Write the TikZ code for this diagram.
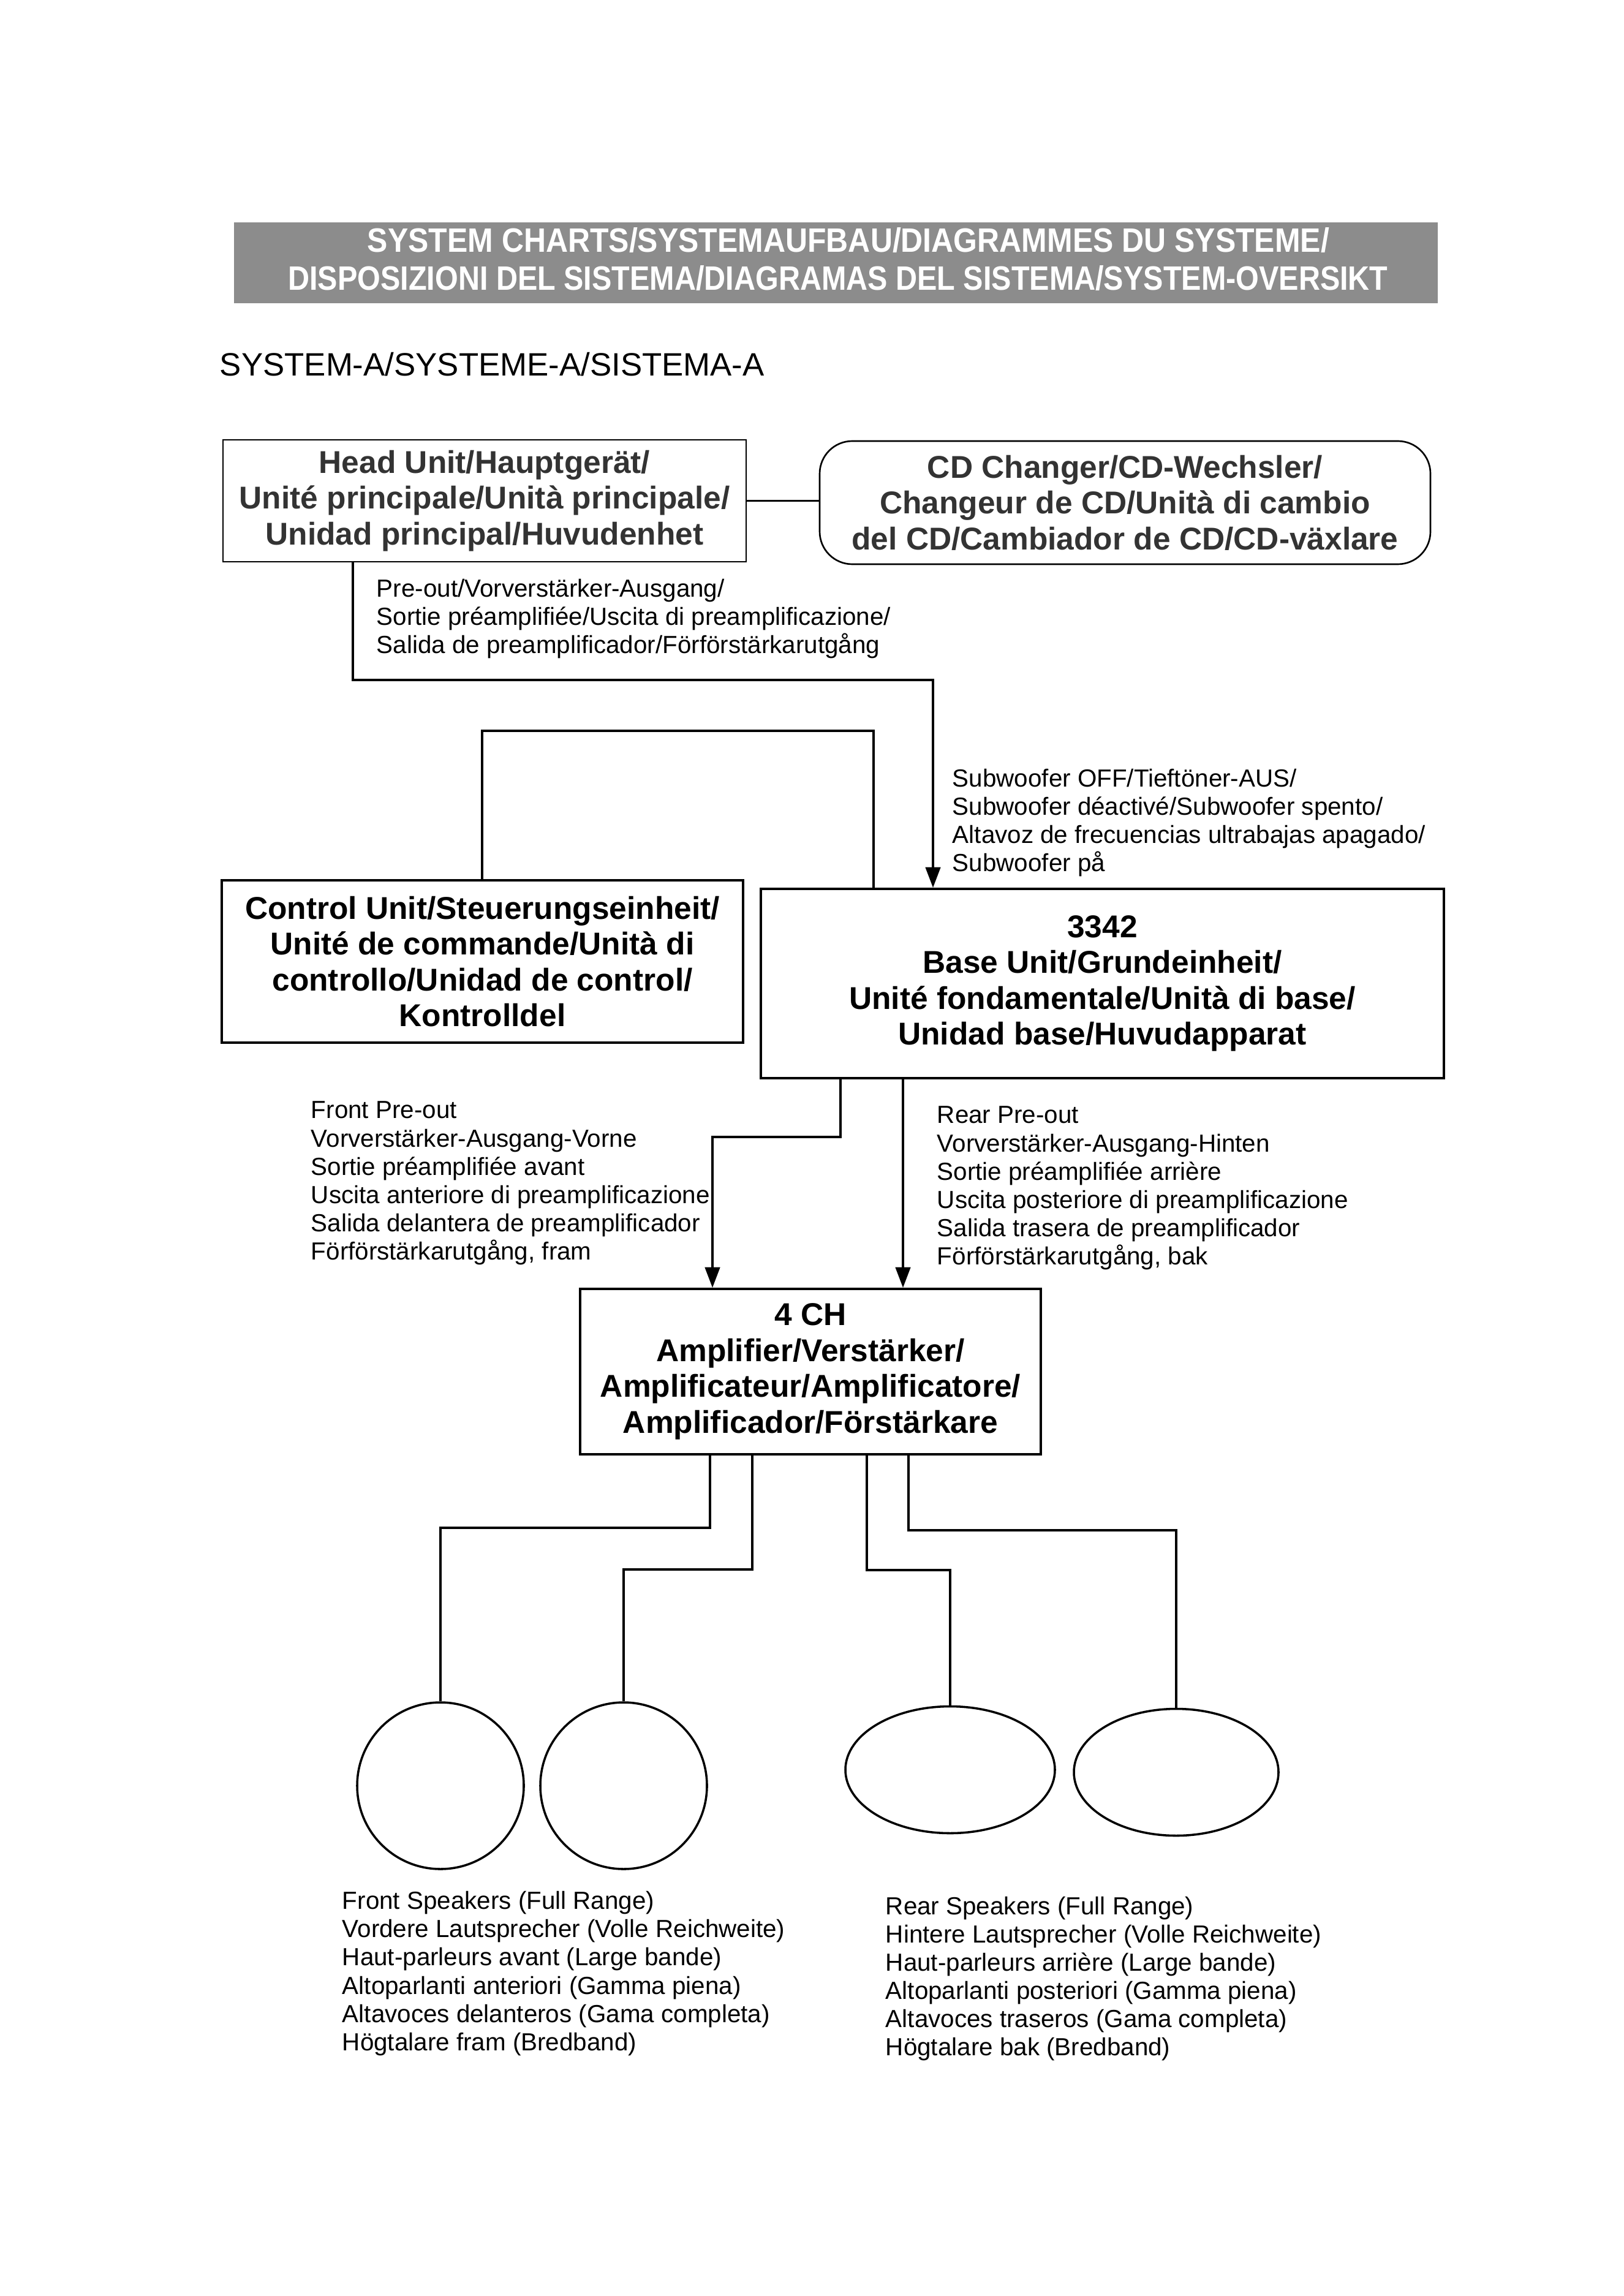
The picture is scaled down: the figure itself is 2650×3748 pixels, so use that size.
\documentclass[tikz,border=0pt]{standalone}
\usepackage{fontspec}
\setmainfont{Liberation Sans}
\usetikzlibrary{arrows.meta,shapes.geometric}
\newdimen\pxLen
\pxLen=0.2254pt
\begin{document}
\begin{tikzpicture}[
    x=\pxLen, y=-\pxLen,
    sysBanner/.style={fill=black!45, inner sep=0pt},
    sysBannerText/.style={text=white, inner sep=0pt, font=\bfseries},
    sysTitle/.style={anchor=west, inner sep=0pt, font=\fontsize{11.9}{14}\selectfont},
    sysUnit/.style={draw=black, line width=0.9pt, align=center, inner sep=0pt,
                    font=\fontsize{11.6}{13.2}\selectfont\bfseries},
    sysUnitFaint/.style={sysUnit, line width=0.6pt, text=black!80},
    sysChanger/.style={sysUnitFaint, rounded corners=12pt},
    sysSpeaker/.style={draw=black, line width=0.8pt, ellipse, inner sep=0pt},
    sysWire/.style={draw=black, line width=0.7pt},
    sysFeed/.style={sysWire, -{Triangle[length=7.5pt,width=5.5pt]}},
    sysNote/.style={align=left, anchor=west, inner sep=0pt,
                    font=\fontsize{9.1}{10.4}\selectfont}]
  \useasboundingbox (0,0) rectangle (2650,3748);

  % heading
  \node[sysBanner, minimum width=1965*\pxLen, minimum height=132*\pxLen] (banner) at (1364.5,429) {};
  \node[sysBannerText] (bannerTop) at (1385,392)
    {\resizebox{1570\pxLen}{40\pxLen}{SYSTEM CHARTS/SYSTEMAUFBAU/DIAGRAMMES DU SYSTEME/}};
  \node[sysBannerText] (bannerBottom) at (1368,454)
    {\resizebox{1795\pxLen}{40\pxLen}{DISPOSIZIONI DEL SISTEMA/DIAGRAMAS DEL SISTEMA/SYSTEM-OVERSIKT}};
  \node[sysTitle] (systemName) at (358,595) {SYSTEM-A/SYSTEME-A/SISTEMA-A};

  % units
  \node[sysUnitFaint, minimum width=854*\pxLen, minimum height=199*\pxLen] (headUnit) at (791,817.5)
    {Head Unit/Hauptgerät/\\Unité principale/Unità principale/\\Unidad principal/Huvudenhet};
  \node[sysChanger, minimum width=997*\pxLen, minimum height=201*\pxLen] (cdChanger) at (1836.5,820.5)
    {CD Changer/CD-Wechsler/\\Changeur de CD/Unità di cambio\\del CD/Cambiador de CD/CD-växlare};
  \node[sysUnit, minimum width=851*\pxLen, minimum height=265*\pxLen] (controlUnit) at (787.5,1569.5)
    {Control Unit/Steuerungseinheit/\\Unité de commande/Unità di\\controllo/Unidad de control/\\Kontrolldel};
  \node[sysUnit, minimum width=1115*\pxLen, minimum height=309*\pxLen] (baseUnit) at (1799.5,1605.5)
    {3342\\Base Unit/Grundeinheit/\\Unité fondamentale/Unità di base/\\Unidad base/Huvudapparat};
  \node[sysUnit, minimum width=752*\pxLen, minimum height=270*\pxLen] (amplifier) at (1323,2239)
    {4 CH\\Amplifier/Verstärker/\\Amplificateur/Amplificatore/\\Amplificador/Förstärkare};

  % speakers
  \node[sysSpeaker, minimum width=272*\pxLen, minimum height=272*\pxLen] (spkFL) at (719,2915) {};
  \node[sysSpeaker, minimum width=272*\pxLen, minimum height=272*\pxLen] (spkFR) at (1018,2915) {};
  \node[sysSpeaker, minimum width=342*\pxLen, minimum height=207*\pxLen] (spkRL) at (1551,2889) {};
  \node[sysSpeaker, minimum width=334*\pxLen, minimum height=207*\pxLen] (spkRR) at (1920,2893) {};

  % bend points
  \coordinate (preOutL) at (576,1110);
  \coordinate (preOutR) at (1523,1110);
  \coordinate (ctrlLoopL) at (787,1193);
  \coordinate (ctrlLoopR) at (1426,1193);
  \coordinate (frontOutR) at (1372,1856);
  \coordinate (frontOutL) at (1163,1856);
  \coordinate (rearOut) at (1474,1856);
  \coordinate (ampFL) at (1159,2494);
  \coordinate (ampFR) at (1228,2562);
  \coordinate (ampRL) at (1415,2563);
  \coordinate (ampRR) at (1483,2498);

  % wiring
  \draw[sysWire] (headUnit.east) -- (headUnit.east -| cdChanger.west);
  \draw[sysFeed] (preOutL |- headUnit.south) -- (preOutL) -- (preOutR) -- (preOutR |- baseUnit.north);
  \draw[sysWire] (ctrlLoopL |- controlUnit.north) -- (ctrlLoopL) -- (ctrlLoopR) -- (ctrlLoopR |- baseUnit.north);
  \draw[sysFeed] (frontOutR |- baseUnit.south) -- (frontOutR) -- (frontOutL) -- (frontOutL |- amplifier.north);
  \draw[sysFeed] (rearOut |- baseUnit.south) -- (rearOut |- amplifier.north);
  \foreach \tap/\spk in {ampFL/spkFL,ampFR/spkFR,ampRL/spkRL,ampRR/spkRR}{
    \draw[sysWire] (\tap |- amplifier.south) -- (\tap) -- (\tap -| \spk.north) -- (\spk.north);
  }

  % notes
  \node[sysNote] (preOutNote) at (614,1010)
    {Pre-out/Vorverstärker-Ausgang/\\Sortie préamplifiée/Uscita di preamplificazione/\\Salida de preamplificador/Förförstärkarutgång};
  \node[sysNote] (subNote) at (1554,1343)
    {Subwoofer OFF/Tieftöner-AUS/\\Subwoofer déactivé/Subwoofer spento/\\Altavoz de frecuencias ultrabajas apagado/\\Subwoofer på};
  \node[sysNote] (frontNote) at (507,1931.5)
    {Front Pre-out\\Vorverstärker-Ausgang-Vorne\\Sortie préamplifiée avant\\Uscita anteriore di preamplificazione\\Salida delantera de preamplificador\\Förförstärkarutgång, fram};
  \node[sysNote] (rearNote) at (1529,1939.5)
    {Rear Pre-out\\Vorverstärker-Ausgang-Hinten\\Sortie préamplifiée arrière\\Uscita posteriore di preamplificazione\\Salida trasera de preamplificador\\Förförstärkarutgång, bak};
  \node[sysNote] (frontSpkNote) at (558,3221.5)
    {Front Speakers (Full Range)\\Vordere Lautsprecher (Volle Reichweite)\\Haut-parleurs avant (Large bande)\\Altoparlanti anteriori (Gamma piena)\\Altavoces delanteros (Gama completa)\\Högtalare fram (Bredband)};
  \node[sysNote] (rearSpkNote) at (1445,3230)
    {Rear Speakers (Full Range)\\Hintere Lautsprecher (Volle Reichweite)\\Haut-parleurs arrière (Large bande)\\Altoparlanti posteriori (Gamma piena)\\Altavoces traseros (Gama completa)\\Högtalare bak (Bredband)};
\end{tikzpicture}
\end{document}
